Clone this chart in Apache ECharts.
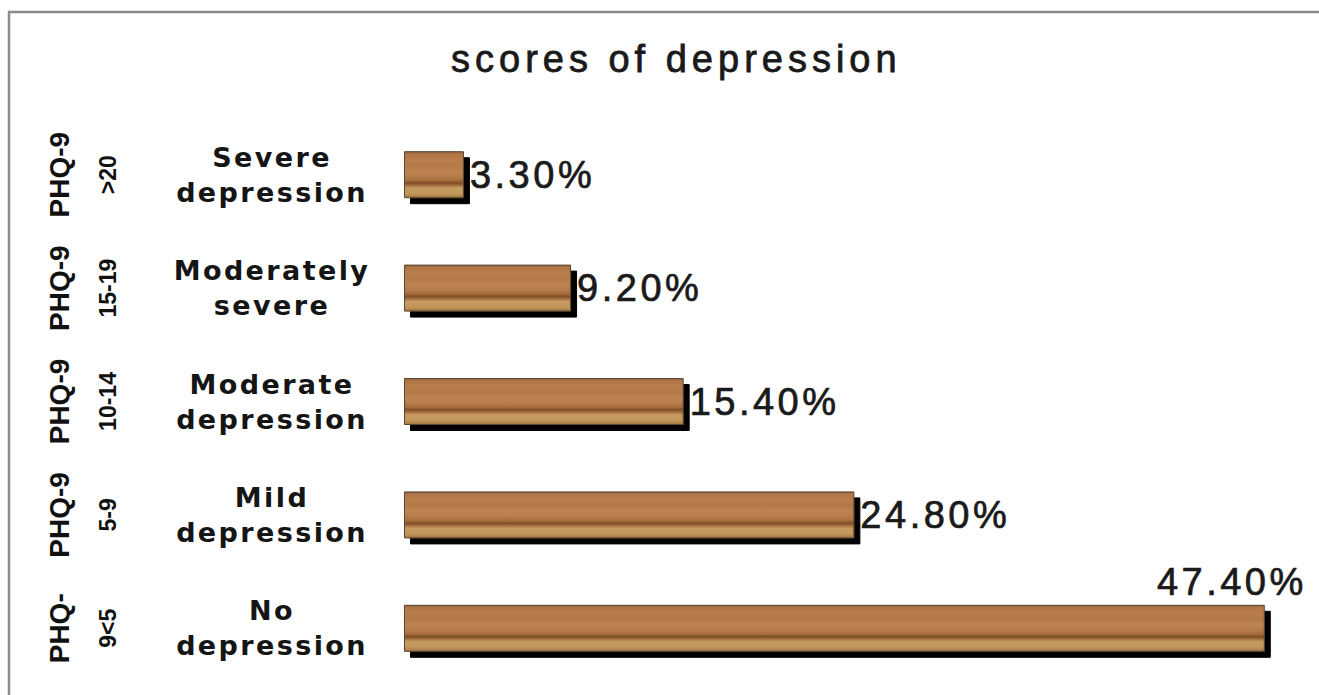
<!DOCTYPE html>
<html>
<head>
<meta charset="utf-8">
<script src="https://cdn.jsdelivr.net/npm/echarts@6/dist/echarts.min.js"></script>
<style>
  html, body { margin: 0; padding: 0; background: #fff; }
  #chart { width: 1319px; height: 695px; }
  #chart svg text { letter-spacing: 2.4px; }
</style>
</head>
<body>
<div id="chart"></div>
<script>
// ---- data (bottom to top) ----
var categories = ['No\ndepression', 'Mild\ndepression', 'Moderate\ndepression', 'Moderately\nsevere', 'Severe\ndepression'];
var values = [47.4, 24.8, 15.4, 9.2, 3.3];
var scaleNames = ['PHQ-', 'PHQ-9', 'PHQ-9', 'PHQ-9', 'PHQ-9'];
var scoreRanges = ['9<5', '5-9', '10-14', '15-19', '>20'];
var titleText = 'scores of depression';

var wood = {
  type: 'linear', x: 0, y: 0, x2: 0, y2: 1,
  colorStops: [
    { offset: 0.00, color: '#8d6040' },
    { offset: 0.05, color: '#b07545' },
    { offset: 0.18, color: '#b97e4c' },
    { offset: 0.30, color: '#b37846' },
    { offset: 0.42, color: '#bd8452' },
    { offset: 0.54, color: '#b67b49' },
    { offset: 0.63, color: '#a66b3b' },
    { offset: 0.68, color: '#7e4c26' },
    { offset: 0.73, color: '#a26c3e' },
    { offset: 0.79, color: '#c69c60' },
    { offset: 0.92, color: '#c0965a' },
    { offset: 1.00, color: '#a07444' }
  ]
};

var chart = echarts.init(document.getElementById('chart'), null, { renderer: 'svg' });
var option = {
  animation: false,
  backgroundColor: '#ffffff',
  title: {
    text: titleText,
    left: 446,
    top: 35,
    textStyle: {
      fontFamily: 'Liberation Sans', fontWeight: 'normal', fontSize: 38, color: '#1a1a1a',
      textBorderColor: '#1a1a1a', textBorderWidth: 0.8
    }
  },
  graphic: [{
    type: 'rect',
    silent: true,
    shape: { x: 9, y: 12, width: 1330, height: 720 },
    style: { fill: 'none', stroke: '#8c8c8c', lineWidth: 2.5 }
  }],
  grid: { left: 404, right: 7, top: 118, bottom: 10, containLabel: false },
  xAxis: { type: 'value', min: 0, max: 50, show: false },
  yAxis: [
    {
      type: 'category', data: categories,
      axisLine: { show: false }, axisTick: { show: false },
      axisLabel: {
        margin: 132, align: 'center',
        fontFamily: 'DejaVu Sans', fontWeight: 'bold', fontSize: 27, lineHeight: 35, color: '#151515'
      }
    },
    {
      type: 'category', data: scaleNames, position: 'left', offset: 345,
      axisLine: { show: false }, axisTick: { show: false },
      axisLabel: {
        rotate: 90, margin: 0, align: 'center', verticalAlign: 'middle',
        fontFamily: 'Liberation Sans', fontWeight: 'bold', fontSize: 28, color: '#111'
      }
    },
    {
      type: 'category', data: scoreRanges, position: 'left', offset: 296,
      axisLine: { show: false }, axisTick: { show: false },
      axisLabel: {
        rotate: 90, margin: 0, align: 'center', verticalAlign: 'middle',
        fontFamily: 'Liberation Sans', fontWeight: 'bold', fontSize: 23, color: '#111'
      }
    }
  ],
  series: [{
    type: 'bar',
    yAxisIndex: 0,
    data: values.map(function (v, i) {
      var d = { value: v };
      if (i === 0) {
        d.label = { position: ['100%', 0], align: 'right', verticalAlign: 'bottom', offset: [42, -4] };
      }
      return d;
    }),
    barWidth: 47,
    itemStyle: {
      color: wood,
      borderColor: '#5a4632',
      borderWidth: 1,
      shadowColor: 'rgba(0,0,0,1)',
      shadowBlur: 0,
      shadowOffsetX: 6,
      shadowOffsetY: 6
    },
    label: {
      show: true,
      position: 'right',
      distance: 6,
      formatter: function (p) { return p.value.toFixed(2) + '%'; },
      fontFamily: 'Liberation Sans',
      fontSize: 38,
      color: '#1a1a1a',
      textBorderColor: '#1a1a1a',
      textBorderWidth: 0.7
    }
  }]
};
chart.setOption(option);

// per-text tracking
var rotated = scaleNames.concat(scoreRanges);
Array.prototype.forEach.call(document.querySelectorAll('#chart svg text'), function (t) {
  var s = t.textContent;
  if (s === titleText) { t.style.letterSpacing = '5px'; }
  else if (rotated.indexOf(s) >= 0) { t.style.letterSpacing = '0px'; }
  else if (/%$/.test(s)) { t.style.letterSpacing = '3.5px'; }
});
</script>
</body>
</html>
